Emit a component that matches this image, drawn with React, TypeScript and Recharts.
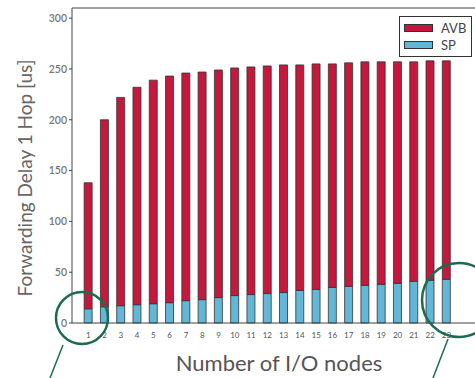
import { BarChart, Bar, XAxis, YAxis, Legend } from 'recharts';

// values
const ioNodes = [1, 2, 3, 4, 5, 6, 7, 8, 9, 10, 11, 12, 13, 14, 15, 16, 17, 18, 19, 20, 21, 22, 23];
const totalDelay = [138, 200, 222, 232, 239, 243, 246, 247, 249, 251, 252, 253, 254, 254, 255, 255, 256, 257, 257, 257, 257, 258, 258];
const spDelay = [14, 16, 17, 18, 19, 20, 22, 23, 25, 27, 28, 29, 30, 32, 33, 35, 36, 37, 38, 39, 41, 42, 43];
const yTicks = [0, 50, 100, 150, 200, 250, 300];

const RED = '#c4183c';
const BLUE = '#62b6d8';
const GREEN = '#1c6b4e';

const data = ioNodes.map((n, i) => ({
  n,
  SP: spDelay[i],
  AVB: totalDelay[i] - spDelay[i],
}));

function LegendBox({ payload }: any) {
  const order = ['AVB', 'SP'];
  const items = [...(payload || [])].sort((a: any, b: any) => order.indexOf(a.value) - order.indexOf(b.value));
  return (
    <div style={{ border: '1px solid #333', background: '#fff', padding: '2px 4px', fontFamily: 'Lato, sans-serif', fontSize: 13, color: '#444' }}>
      {items.map((it: any) => (
        <div key={it.value} style={{ display: 'flex', alignItems: 'center', height: 17.5 }}>
          <span style={{ display: 'inline-block', width: 27, height: 6, background: it.color, border: '1px solid #333', marginRight: 8 }} />
          <span>{it.value}</span>
        </div>
      ))}
    </div>
  );
}

function YLabel() {
  return (
    <text x={24} y={178} transform="rotate(-90 24 178)" textAnchor="middle" dominantBaseline="central"
      fontFamily="Lato, sans-serif" fontSize={19} fill="#666">
      Forwarding Delay 1 Hop [us]
    </text>
  );
}

function XLabel() {
  return (
    <text x={279} y={362} textAnchor="middle" dominantBaseline="central"
      fontFamily="Lato, sans-serif" fontSize={22} fill="#555">
      Number of I/O nodes
    </text>
  );
}

export default function App() {
  return (
    <div style={{ position: 'absolute', left: 0, top: 0, width: 475, height: 378, overflow: 'hidden', background: '#fff' }}>
      <BarChart width={490} height={378} data={data} margin={{ top: 8, right: 11, left: 0, bottom: 0 }}>
        <XAxis xAxisId="b" dataKey="n" type="number" domain={[0, 25]} ticks={ioNodes} interval={0}
          height={55} tickLine={false} tickMargin={3} axisLine={{ stroke: '#444' }}
          tick={{ fontSize: 8, fill: '#555', fontFamily: 'Lato, sans-serif' }} label={<XLabel />} />
        <XAxis xAxisId="t" dataKey="n" type="number" domain={[0, 25]} ticks={ioNodes} interval={0}
          orientation="top" mirror tick={false} tickSize={3} axisLine={{ stroke: '#444' }} tickLine={{ stroke: '#444' }} />
        <YAxis domain={[0, 310]} ticks={yTicks} width={72} tickSize={3} tickMargin={2}
          axisLine={{ stroke: '#444' }} tickLine={{ stroke: '#444' }}
          tick={{ fontSize: 10.5, fill: '#777', fontWeight: 600, fontFamily: 'Lato, sans-serif' }} label={<YLabel />} />
        <Legend layout="horizontal" verticalAlign="middle" align="center" content={<LegendBox />}
          wrapperStyle={{ top: 16, left: 399, width: 73 }} />
        <Bar xAxisId="b" dataKey="SP" stackId="a" fill={BLUE} stroke="#333" strokeWidth={0.8} barSize={8} isAnimationActive={false} />
        <Bar xAxisId="b" dataKey="AVB" stackId="a" fill={RED} stroke="#333" strokeWidth={0.8} barSize={8} isAnimationActive={false} />
      </BarChart>
      <svg width={475} height={378} style={{ position: 'absolute', left: 0, top: 0, pointerEvents: 'none' }}>
        <circle cx={82} cy={318} r={26} fill="none" stroke={GREEN} strokeWidth={2.5} />
        <line x1={63} y1={345} x2={50} y2={378} stroke={GREEN} strokeWidth={1.5} />
        <circle cx={459} cy={300} r={37} fill="none" stroke={GREEN} strokeWidth={2.5} />
        <line x1={448} y1={339} x2={433} y2={378} stroke={GREEN} strokeWidth={1.5} />
      </svg>
    </div>
  );
}
